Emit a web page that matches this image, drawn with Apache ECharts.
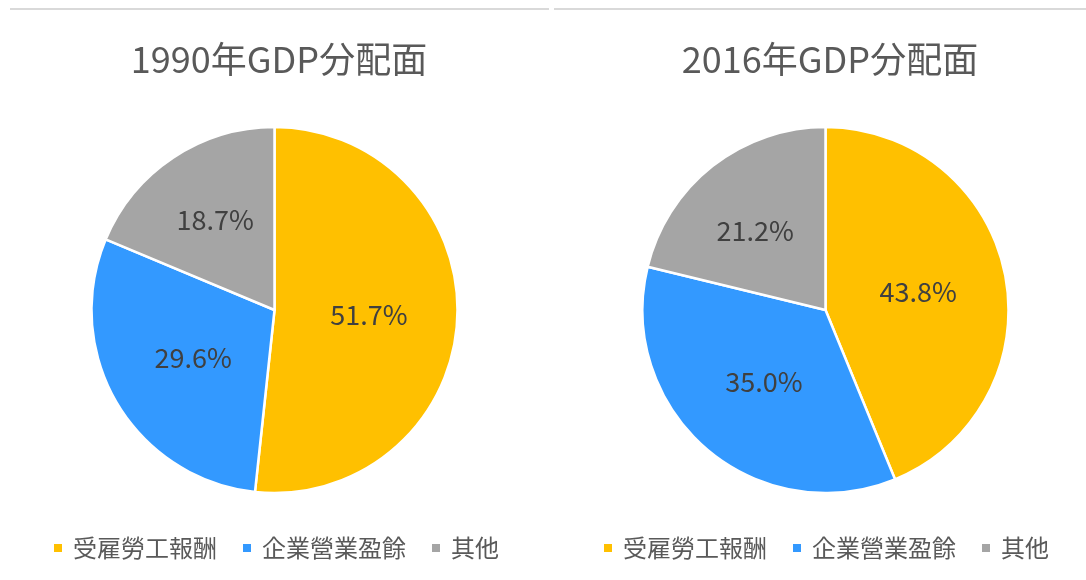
<!DOCTYPE html>
<html>
<head>
<meta charset="utf-8">
<script src="https://cdn.jsdelivr.net/npm/echarts@6/dist/echarts.min.js"></script>
<style>
html,body{margin:0;padding:0;background:#fff;}
#chart{width:1086px;height:580px;}
</style>
</head>
<body>
<div id="chart"></div>
<script>
const categories = ['受雇勞工報酬', '企業營業盈餘', '其他'];
const titles = ['1990年GDP分配面', '2016年GDP分配面'];
const values1990 = [51.7, 29.6, 18.7];
const values2016 = [43.8, 35.0, 21.2];
const colors = ['#FFC000', '#3399FF', '#A5A5A5'];

const FONT = '"Noto Sans CJK JP", "Noto Sans", sans-serif';

function makeData(vals) {
  return categories.map((c, i) => ({ name: c, value: vals[i], itemStyle: { color: colors[i] } }));
}

function pieSeries(vals, cx, shift) {
  return {
    type: 'pie',
    center: [cx, 310],
    radius: 183,
    startAngle: 90,
    clockwise: true,
    avoidLabelOverlap: false,
    emphasis: { disabled: true },
    itemStyle: { borderColor: '#fff', borderWidth: 2.5 },
    label: {
      show: true,
      position: 'inside',
      formatter: p => p.value.toFixed(1) + '%',
      color: '#404040',
      fontSize: 27,
      fontFamily: FONT
    },
    labelLine: { show: false },
    labelLayout: p => (p.dataIndex === 2 ? { dx: shift[0], dy: shift[1] } : {}),
    data: makeData(vals)
  };
}

function legend(left) {
  return {
    left: left,
    top: 531,
    icon: 'rect',
    itemWidth: 10,
    itemHeight: 10,
    itemGap: 24,
    selectedMode: false,
    textStyle: { color: '#595959', fontSize: 24, fontFamily: FONT, padding: [0, 0, 0, 5] },
    data: categories
  };
}

const chart = echarts.init(document.getElementById('chart'), null, { renderer: 'canvas' });
chart.setOption({
  backgroundColor: '#fff',
  animation: false,
  title: [
    { text: titles[0], left: 274, top: 36, textAlign: 'center',
      textStyle: { color: '#595959', fontSize: 36, fontWeight: 'normal', fontFamily: FONT } },
    { text: titles[1], left: 825, top: 36, textAlign: 'center',
      textStyle: { color: '#595959', fontSize: 36, fontWeight: 'normal', fontFamily: FONT } }
  ],
  legend: [legend(47), legend(597)],
  graphic: [
    { type: 'line', shape: { x1: 10, y1: 9, x2: 549, y2: 9 }, style: { stroke: '#D9D9D9', lineWidth: 2 } },
    { type: 'line', shape: { x1: 554, y1: 9, x2: 1086, y2: 9 }, style: { stroke: '#D9D9D9', lineWidth: 2 } }
  ],
  series: [pieSeries(values1990, 274.5, [-7, -12]), pieSeries(values2016, 825.5, [-12, -5])]
});
</script>
</body>
</html>
